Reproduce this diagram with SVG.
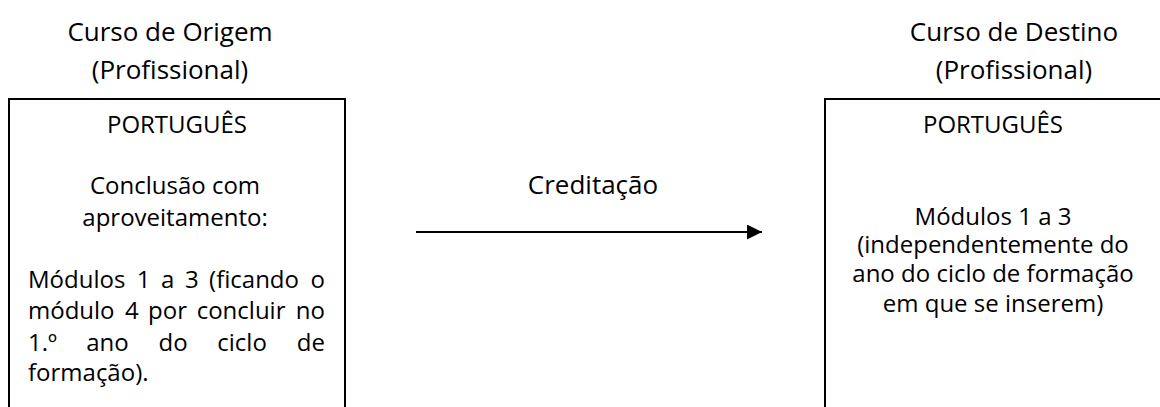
<svg xmlns="http://www.w3.org/2000/svg" width="1160" height="407" viewBox="0 0 1160 407">
<style>
text{font-family:"Open Sans","Noto Sans","Liberation Sans",sans-serif;font-size:24px;fill:#000}
.t{font-size:26px}
.c{text-anchor:middle}
.e{text-anchor:end}
.box{fill:#fff;stroke:#000;stroke-width:2}
.con{stroke:#000;stroke-width:2;fill:none}
</style>
<defs>
<marker id="ah" markerWidth="16" markerHeight="16" refX="15" refY="7.5" orient="auto" markerUnits="userSpaceOnUse">
<path d="M0,0 L15,7.5 L0,15 Z" fill="#000"/>
</marker>
</defs>
<rect width="1160" height="407" fill="#fff"/>
<g id="origem">
<text class="c t" x="170" y="41">Curso de Origem</text>
<text class="c t" x="170" y="79">(Profissional)</text>
<rect class="box" x="9" y="99" width="336" height="320"/>
<text class="c" x="177" y="133">PORTUGUÊS</text>
<text class="c" x="175" y="194">Conclusão com</text>
<text class="c" x="175" y="226">aproveitamento:</text>
<text y="288"><tspan x="28">Módulos</tspan><tspan x="136.7">1</tspan><tspan x="160.9">a</tspan><tspan x="184.9">3</tspan><tspan x="209.1">(ficando</tspan><tspan class="e" x="325">o</tspan></text>
<text y="319"><tspan x="28">módulo</tspan><tspan x="125.1">4</tspan><tspan x="148.1">por</tspan><tspan x="196.7">concluir</tspan><tspan class="e" x="325">no</tspan></text>
<text y="351"><tspan x="28">1.º</tspan><tspan x="86.2">ano</tspan><tspan x="158.5">do</tspan><tspan x="217.3">ciclo</tspan><tspan class="e" x="325">de</tspan></text>
<text x="28" y="381">formação).</text>
</g>
<g id="destino">
<text class="c t" x="1014" y="41">Curso de Destino</text>
<text class="c t" x="1014" y="79">(Profissional)</text>
<rect class="box" x="825" y="99" width="340" height="320"/>
<text class="c" x="993" y="133">PORTUGUÊS</text>
<text class="c" x="993" y="225">Módulos 1 a 3</text>
<text class="c" x="993" y="253">(independentemente do</text>
<text class="c" x="993" y="282">ano do ciclo de formação</text>
<text class="c" x="993" y="312">em que se inserem)</text>
</g>
<g id="connectors">
<line class="con" x1="416" y1="232" x2="762" y2="232" marker-end="url(#ah)"/>
<text class="c t" x="593" y="194">Creditação</text>
</g>
</svg>
